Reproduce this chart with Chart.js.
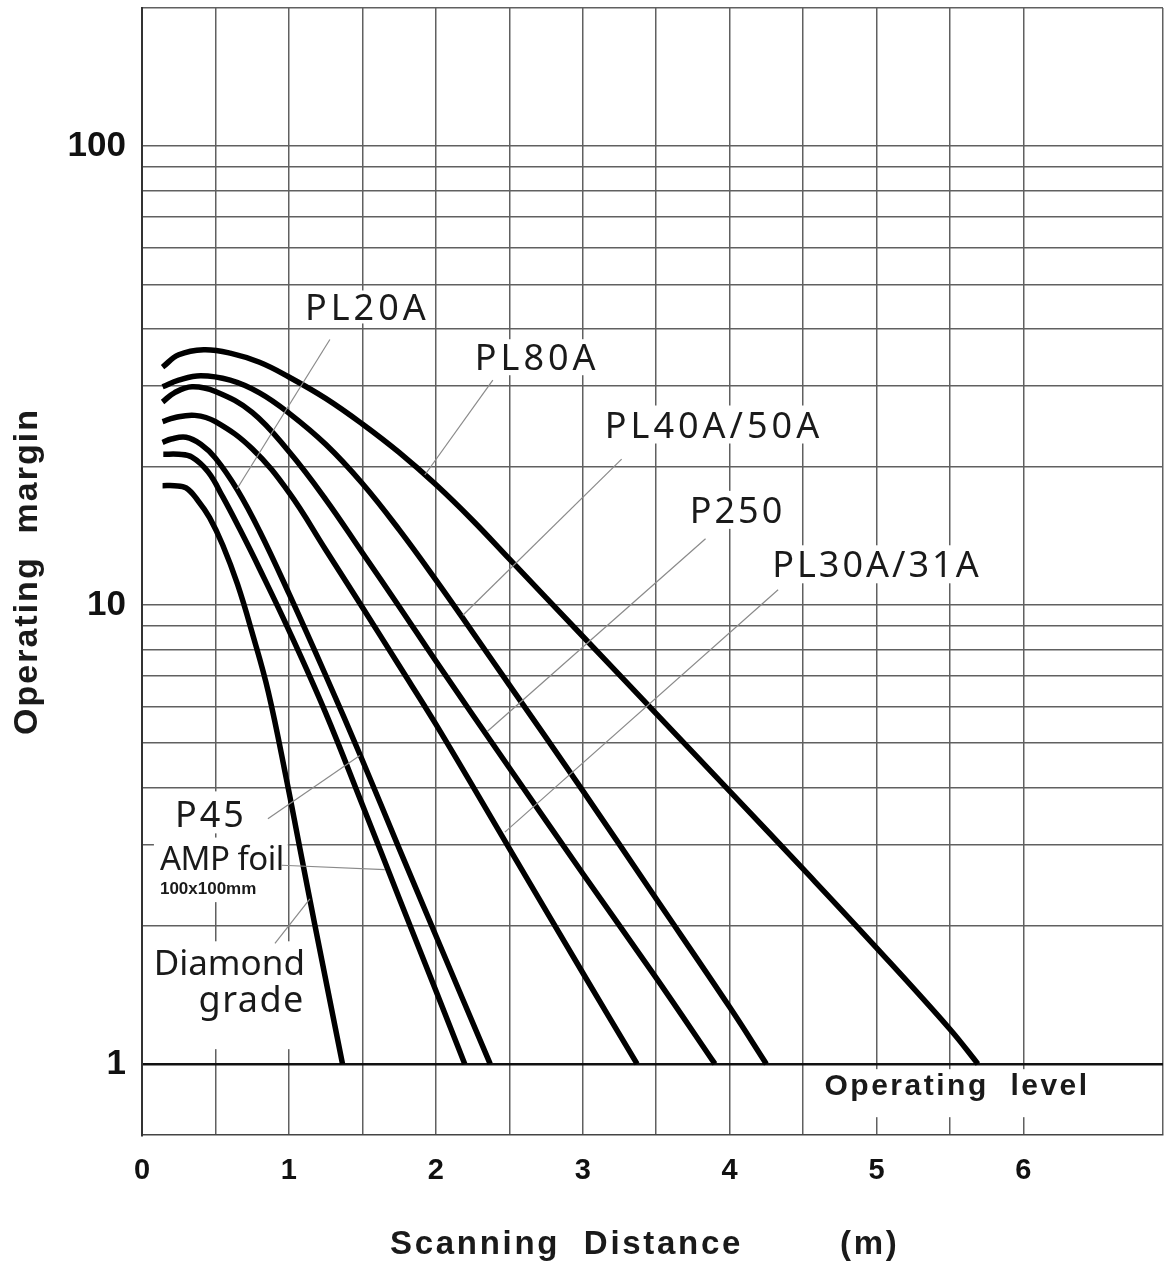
<!DOCTYPE html>
<html>
<head>
<meta charset="utf-8">
<title>Operating margin vs scanning distance</title>
<script src="https://cdn.jsdelivr.net/npm/chart.js@4.4.1/dist/chart.umd.min.js"></script>
<style>
  html, body { margin: 0; padding: 0; background: #fff; }
  #wrap { width: 1164px; height: 1265px; }
</style>
</head>
<body>
<div id="wrap"><canvas id="myChart" width="1164" height="1265"></canvas></div>
<script>
// Curves: scanning distance (m) -> operating margin
const pl80aX = [0.14, 0.25, 0.42, 0.6, 0.8, 1.0, 1.25, 1.5, 1.75, 2.0, 2.25, 2.5, 3.0, 3.5, 4.0, 4.5, 5.0, 5.5, 5.69];
const pl80aY = [33, 35.1, 36, 35.4, 33.8, 31.4, 28.2, 24.8, 21.5, 18.3, 15.3, 12.6, 8.55, 5.8, 3.93, 2.66, 1.79, 1.19, 1.0];

const pl40aX = [0.14, 0.25, 0.4, 0.6, 0.8, 1.0, 1.25, 1.5, 1.75, 2.0, 2.25, 2.5, 3.0, 3.5, 4.0, 4.25];
const pl40aY = [29.9, 30.9, 31.6, 30.9, 29.0, 26.2, 22.4, 18.4, 14.6, 11.35, 8.73, 6.70, 3.94, 2.29, 1.33, 1.0];

const p250X = [0.14, 0.22, 0.34, 0.5, 0.75, 1.0, 1.25, 1.5, 1.75, 2.0, 2.5, 3.0, 3.5, 3.9];
const p250Y = [27.7, 29.0, 29.9, 29.2, 26.3, 21.6, 17.0, 13.0, 9.93, 7.55, 4.42, 2.60, 1.54, 1.0];

const pl30aX = [0.14, 0.22, 0.36, 0.5, 0.75, 1.0, 1.25, 1.5, 1.75, 2.0, 2.5, 3.0, 3.37];
const pl30aY = [25.1, 25.6, 25.9, 25.1, 21.9, 17.6, 13.2, 9.89, 7.38, 5.50, 2.95, 1.58, 1.0];

const p45X = [0.14, 0.2, 0.3, 0.4, 0.5, 0.65, 0.8, 1.0, 1.25, 1.5, 1.75, 2.0, 2.37];
const p45Y = [22.6, 23.0, 23.2, 22.4, 20.9, 17.8, 14.5, 10.6, 7.03, 4.59, 2.95, 1.905, 1.0];

const ampX = [0.145, 0.25, 0.34, 0.45, 0.55, 0.667, 0.8, 1.0, 1.25, 1.5, 1.75, 2.0, 2.197];
const ampY = [21.3, 21.3, 21.0, 19.5, 17.2, 14.6, 12.0, 8.81, 5.82, 3.67, 2.30, 1.445, 1.0];

const diamondX = [0.14, 0.22, 0.3, 0.38, 0.46, 0.55, 0.65, 0.75, 0.86, 0.99, 1.066, 1.175, 1.365];
const diamondY = [18.2, 18.2, 18.0, 16.9, 15.5, 13.5, 11.1, 8.7, 6.46, 4.07, 3.05, 2.02, 1.0];

// axis ticks
const xTickLabels = [0, 1, 2, 3, 4, 5, 6];
const yTickLabels = [1, 10, 100];
const yGridValues = [1, 2, 3, 4, 5, 6, 7, 8, 9, 10, 20, 30, 40, 50, 60, 70, 80, 90, 100, 200];

// texts inside the plot (data coords); each one sits on a white patch like the scan
// pad = [sides, above, below]
const THIN = '"Noto Sans", "DejaVu Sans", sans-serif';
const BOLD = '"Liberation Sans", Arial, sans-serif';
const curveNotes = [
  { text: 'PL20A', x: 1.109, y: 43.9, align: 'left', font: '36px ' + THIN, spacing: 4, pad: [5, 4, 3] },
  { text: 'PL80A', x: 2.265, y: 34.2, align: 'left', font: '36px ' + THIN, spacing: 4, pad: [5, 5, 5] },
  { text: 'PL40A/50A', x: 3.15, y: 24.4, align: 'left', font: '36px ' + THIN, spacing: 4, pad: [5, 6, 6] },
  { text: 'P250', x: 3.728, y: 15.9, align: 'left', font: '36px ' + THIN, spacing: 3, pad: [5, 6, 6] },
  { text: 'PL30A/31A', x: 4.29, y: 12.1, align: 'left', font: '36px ' + THIN, spacing: 3, pad: [5, 6, 6] },
  { text: 'P45', x: 0.224, y: 3.45, align: 'left', font: '36px ' + THIN, spacing: 3, pad: [22, 10, 6] },
  { text: 'AMP foil', x: 0.122, y: 2.78, align: 'left', font: '33px ' + THIN, spacing: -0.5, pad: [6, 6, 6] },
  { text: '100x100mm', x: 0.122, y: 2.40, align: 'left', font: 'bold 17px ' + BOLD, spacing: 0, pad: [6, 8, 8] },
  { text: 'Diamond', x: 1.109, y: 1.64, align: 'right', font: '35px ' + THIN, spacing: 0, pad: [6, 8, 6] },
  { text: 'grade', x: 1.109, y: 1.365, align: 'right', font: '36px ' + THIN, spacing: 1.5, pad: [6, 6, 28] },
  { text: 'Operating  level', x: 4.646, y: 0.891, align: 'left', font: 'bold 30px ' + BOLD, spacing: 2.5, pad: [14, 4, 16] }
];

// thin leader lines from the names to the curves
const leaders = [
  [1.279, 37.9, 0.646, 17.9],
  [2.388, 30.9, 1.925, 19.2],
  [3.265, 20.8, 2.184, 9.5],
  [3.836, 13.95, 2.35, 5.3],
  [4.33, 10.8, 2.47, 3.2],
  [0.857, 3.42, 1.483, 4.7],
  [0.952, 2.71, 1.653, 2.65],
  [0.905, 1.83, 1.143, 2.29]
];

function toPoints(xs, ys) {
  return xs.map(function (x, i) { return { x: x, y: ys[i] }; });
}

function curve(label, xs, ys) {
  return {
    label: label,
    data: toPoints(xs, ys),
    borderColor: '#000',
    borderWidth: 5.5,
    pointRadius: 0,
    fill: false,
    tension: 0.4
  };
}

// no extra room for edge labels: the plot fills the canvas like the scan
function noPadding(scale) {
  scale.paddingTop = 0;
  scale.paddingBottom = 0;
  scale.paddingLeft = 0;
  scale.paddingRight = 0;
}

function setNoteFont(ctx, n) {
  ctx.font = n.font;
  ctx.letterSpacing = n.spacing + 'px';
  ctx.textAlign = n.align;
  ctx.textBaseline = 'middle';
}

// Draws the white patches, curve names, leaders and axis titles
const notesPlugin = {
  id: 'notes',
  beforeDatasetsDraw: function (chart) {
    const ctx = chart.ctx, xs = chart.scales.x, ys = chart.scales.y;
    ctx.save();
    ctx.fillStyle = '#fff';
    curveNotes.forEach(function (n) {
      setNoteFont(ctx, n);
      const m = ctx.measureText(n.text);
      const px = xs.getPixelForValue(n.x), py = ys.getPixelForValue(n.y);
      const left = px - m.actualBoundingBoxLeft - n.pad[0];
      const right = px + m.actualBoundingBoxRight + n.pad[0];
      const top = py - m.actualBoundingBoxAscent - n.pad[1];
      const bottom = py + m.actualBoundingBoxDescent + n.pad[2];
      ctx.fillRect(left, top, right - left, bottom - top);
    });
    ctx.restore();
  },
  afterDatasetsDraw: function (chart) {
    const ctx = chart.ctx, xs = chart.scales.x, ys = chart.scales.y;
    const area = chart.chartArea;

    ctx.save();
    ctx.strokeStyle = '#8a8a8a';
    ctx.lineWidth = 1.2;
    leaders.forEach(function (l) {
      ctx.beginPath();
      ctx.moveTo(xs.getPixelForValue(l[0]), ys.getPixelForValue(l[1]));
      ctx.lineTo(xs.getPixelForValue(l[2]), ys.getPixelForValue(l[3]));
      ctx.stroke();
    });

    ctx.fillStyle = '#1a1a1a';
    curveNotes.forEach(function (n) {
      setNoteFont(ctx, n);
      ctx.fillText(n.text, xs.getPixelForValue(n.x), ys.getPixelForValue(n.y));
    });

    // axis titles
    ctx.textAlign = 'left';
    ctx.letterSpacing = '2.7px';
    ctx.font = 'bold 33px ' + BOLD;
    ctx.fillText('Scanning  Distance', 390, 1245);
    ctx.fillText('(m)', 840, 1245);

    ctx.translate(28, (area.top + area.bottom) / 2);
    ctx.rotate(-Math.PI / 2);
    ctx.textAlign = 'center';
    ctx.font = 'bold 34px ' + BOLD;
    ctx.letterSpacing = '2px';
    ctx.fillText('Operating  margin', 0, 0);
    ctx.restore();
  }
};

const config = {
  type: 'line',
  data: {
    datasets: [
      curve('PL80A', pl80aX, pl80aY),
      curve('PL40A/50A', pl40aX, pl40aY),
      curve('P250', p250X, p250Y),
      curve('PL30A/31A', pl30aX, pl30aY),
      curve('P45 / PL20A', p45X, p45Y),
      curve('AMP foil', ampX, ampY),
      curve('Diamond grade', diamondX, diamondY)
    ]
  },
  options: {
    responsive: false,
    animation: false,
    layout: { padding: { top: 8, right: 1, left: 0, bottom: 0 } },
    plugins: {
      legend: { display: false },
      tooltip: { enabled: false }
    },
    scales: {
      x: {
        type: 'linear',
        min: 0,
        max: 6.95,
        afterFit: function (scale) { scale.height = 130; noPadding(scale); },
        ticks: {
          stepSize: 0.5,
          autoSkip: false,
          maxRotation: 0,
          padding: 19,
          color: '#111',
          font: { family: BOLD, size: 29, weight: 'bold' },
          callback: function (v) { return xTickLabels.indexOf(v) >= 0 ? String(v) : ''; }
        },
        grid: { color: '#606060', lineWidth: 1.5, drawTicks: false },
        border: { color: '#444', width: 1.6 }
      },
      y: {
        type: 'logarithmic',
        min: 0.7,
        max: 200,
        afterFit: function (scale) { scale.width = 142; noPadding(scale); },
        afterBuildTicks: function (scale) {
          scale.ticks = yGridValues.map(function (v) { return { value: v }; });
        },
        ticks: {
          autoSkip: false,
          padding: 16,
          color: '#111',
          font: { family: BOLD, size: 35, weight: 'bold' },
          callback: function (v) { return yTickLabels.indexOf(v) >= 0 ? String(v) : ''; }
        },
        grid: {
          drawTicks: false,
          color: function (c) { return c.tick && c.tick.value === 1 ? '#111' : '#606060'; },
          lineWidth: function (c) { return c.tick && c.tick.value === 1 ? 2.6 : 1.5; }
        },
        border: { color: '#333', width: 2 }
      }
    }
  },
  plugins: [notesPlugin]
};

const ctx = document.getElementById('myChart').getContext('2d');
const chart = new Chart(ctx, config);
</script>
</body>
</html>
